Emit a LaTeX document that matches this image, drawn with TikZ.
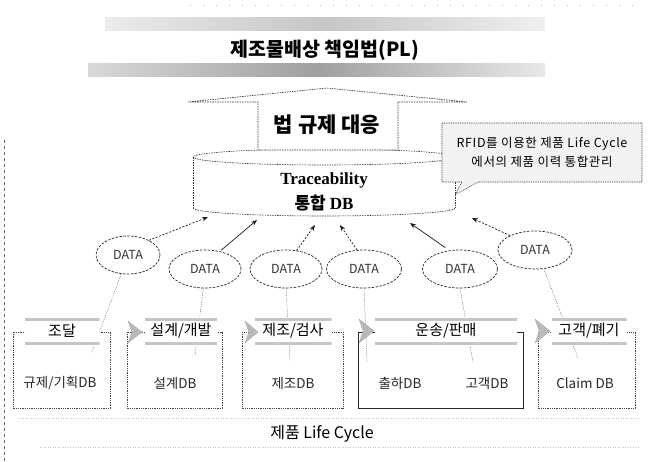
\documentclass[tikz,border=0pt]{standalone}
\usepackage{fontspec}
\setmainfont{Noto Sans CJK KR}
\newfontfamily\serifb{Liberation Serif}
\usetikzlibrary{shapes.geometric,arrows.meta}
\tikzset{
  dataell/.style={ellipse, draw=black!85, dash pattern=on 2.5pt off 1.4pt, line width=0.7pt,
    minimum width=72pt, minimum height=38pt, inner sep=0pt,
    font=\fontsize{12.5}{12.5}\selectfont, text=black!80},
  uparr/.style={-{Stealth[length=6pt,width=4.5pt]}, line width=0.7pt, draw=black!90},
  dasharr/.style={uparr, dash pattern=on 2pt off 1.6pt},
  downline/.style={draw=black!60, line width=0.5pt, dash pattern=on 1pt off 1.3pt},
  frame/.style={draw=black!75, line width=0.55pt, dash pattern=on 1pt off 0.8pt},
  solidframe/.style={draw=black!85, line width=0.6pt},
  outl/.style={draw=black!80, line width=0.6pt, dash pattern=on 1.5pt off 1pt},
  hdr/.style={fill=white, inner sep=0pt, minimum height=29pt,
    font=\fontsize{15}{15}\selectfont,
    path picture={
      \fill[gray!45] ([yshift=-1pt]path picture bounding box.north west) rectangle ([yshift=-4pt]path picture bounding box.north east);
      \fill[gray!45] ([yshift=1pt]path picture bounding box.south west) rectangle ([yshift=4pt]path picture bounding box.south east);
    }},
  dbtext/.style={font=\fontsize{13.5}{13.5}\selectfont, text=black!85},
  marker/.style={fill=gray!55, draw=gray!70, line width=0.3pt},
}
\begin{document}
\begin{tikzpicture}[x=1pt,y=-1pt]
\useasboundingbox (0,0) rectangle (651,461);

% faint border remnants
\draw[gray!50, dash pattern=on 1pt off 12pt] (190,5) -- (640,5);
\draw[black!60, dash pattern=on 3pt off 3pt] (4,140) -- (4,461);

% title banner
\shade[left color=gray!15, right color=gray!12, middle color=gray!45] (105,17) rectangle (545,30);
\shade[left color=gray!30, right color=gray!18, middle color=gray!75] (88,63) rectangle (545,76);
\node[font=\fontsize{19.5}{19.5}\selectfont\bfseries] (title) at (325,50) {제조물배상 책임법(PL)};

% cylinder (Traceability DB)
\fill[white] (193,157) -- (193,208) .. controls (193,212.4) and (251.6,216) .. (324,216)
  .. controls (396.4,216) and (455,212.4) .. (455,208) -- (455,157) -- cycle;
\draw[outl] (324,157) ellipse [x radius=131, y radius=8];
\draw[outl] (193,157) -- (193,208);
\draw[outl] (455,157) -- (455,208);
\draw[outl] (193,208) .. controls (193,212.4) and (251.6,216) .. (324,216)
  .. controls (396.4,216) and (455,212.4) .. (455,208);
\node[align=center, font=\fontsize{17}{25}\selectfont] (db) at (324,192)
  {{\serifb\bfseries Traceability}\\{\bfseries 통합 {\serifb DB}}};

% up arrow
\draw[outl, fill=white] (258,150) -- (258,102) -- (188,102) -- (327,88) -- (467,102)
  -- (398,102) -- (398,150) -- cycle;
\node[font=\fontsize{21}{21}\selectfont\bfseries] (law) at (327,125) {법 규제 대응};

% callout
\draw[draw=black!75, line width=0.55pt, dash pattern=on 1pt off 0.8pt, fill=gray!10]
  (442,123) -- (642,123) -- (642,182) -- (478,182) -- (455,195) -- (462,182) -- (442,182) -- cycle;
\node[align=center, font=\fontsize{12.5}{19}\selectfont\addfontfeature{LetterSpace=5}] (note) at (542,152)
  {RFID를 이용한 제품 Life Cycle\\에서의 제품 이력 통합관리};

% DATA ellipses
\node[dataell, minimum width=64pt] (d1) at (128,255) {DATA};
\node[dataell] (d2) at (205,269) {DATA};
\node[dataell] (d3) at (286,269) {DATA};
\node[dataell, minimum width=75pt] (d4) at (364,269) {DATA};
\node[dataell, minimum width=75pt] (d5) at (460,269) {DATA};
\node[dataell, minimum width=74pt] (d6) at (535,250) {DATA};

% arrow tips at the DB
\coordinate (t1) at (208,217);
\coordinate (t2) at (257,220);
\coordinate (t3) at (315,225);
\coordinate (t4) at (340,225);
\coordinate (t5) at (410,223);
\coordinate (t6) at (472,218);
\draw[dasharr] (d1.35) -- (t1);
\draw[uparr, shorten <=2pt] (d2.50) -- (t2);
\draw[dasharr] (d3.60) -- (t3);
\draw[dasharr] (d4.110) -- (t4);
\draw[uparr, shorten <=5pt] (d5.120) -- (t5);
\draw[dasharr] (d6.150) -- (t6);

% stage boxes
\draw[frame] (13,332) rectangle (110,408);
\draw[frame] (127,332) rectangle (222,408);
\draw[frame] (242,332) rectangle (343,408);
\draw[solidframe] (358,332) rectangle (523,408);
\draw[frame] (538,332) rectangle (635,408);

% lines from DATA to the stages
\coordinate (b1) at (92,352);
\coordinate (b2) at (195,355);
\coordinate (b3) at (290,360);
\coordinate (b4) at (367,362);
\coordinate (b5) at (473,362);
\coordinate (b6) at (578,358);
\draw[downline] (d1.250) -- (b1);
\draw[downline] (d2.265) -- (b2);
\draw[downline] (d3.south) -- (b3);
\draw[downline] (d4.south) -- (b4);
\draw[downline] (d5.south) -- (b5);
\draw[downline] (d6.-65) -- (b6);

% headers
\node[hdr, minimum width=75pt] (h1) at (62,331) {조달};
\node[hdr, minimum width=72pt] (h2) at (181,331) {설계/개발};
\node[hdr, minimum width=77pt] (h3) at (293,331) {제조/검사};
\node[hdr, minimum width=142pt] (h4) at (446,331) {운송/판매};
\node[hdr, minimum width=75pt] (h5) at (589,331) {고객/폐기};

% flow markers
\draw[marker] (128,321) -- (142,332) -- (128,343) -- (132,332) -- cycle;
\draw[marker] (245,321) -- (258,332) -- (245,343) -- (249,332) -- cycle;
\draw[marker] (359,319) -- (374,331) -- (359,343) -- (363,331) -- cycle;
\draw[marker] (535,319) -- (550,331) -- (535,343) -- (539,331) -- cycle;

% DB labels
\node[dbtext] (k1) at (60,383) {규제/기획DB};
\node[dbtext] (k2) at (175,383) {설계DB};
\node[dbtext] (k3) at (293,383) {제조DB};
\node[dbtext] (k4) at (400,383) {출하DB};
\node[dbtext] (k5) at (487,383) {고객DB};
\node[dbtext] (k6) at (585,383) {Claim DB};

% product life cycle band
\draw[gray!45, dash pattern=on 1pt off 1.5pt] (18,418) -- (640,418);
\draw[gray!45, dash pattern=on 1pt off 1.5pt] (40,447) -- (640,447);
\node[font=\fontsize{16}{16}\selectfont] (plc) at (322,434) {제품 Life Cycle};
\end{tikzpicture}
\end{document}
